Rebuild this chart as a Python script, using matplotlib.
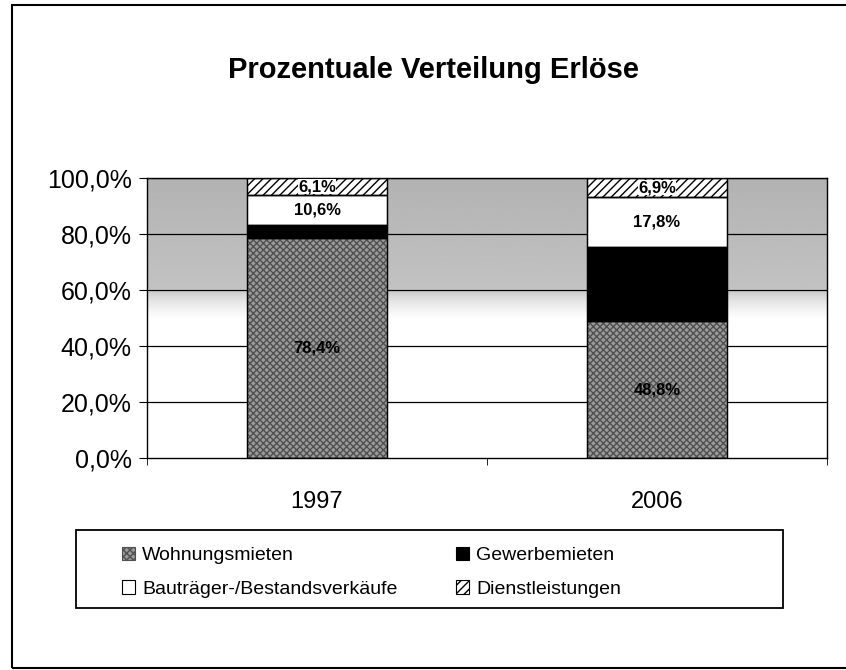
import numpy as np
import matplotlib
matplotlib.use("Agg")
import matplotlib.pyplot as plt
from matplotlib.patches import Rectangle

plt.rcParams["font.family"] = ["Liberation Sans", "DejaVu Sans"]

# ── Data ────────────────────────────────────────────────────────────────
years = ["1997", "2006"]
series = ["Wohnungsmieten", "Gewerbemieten",
          "Bauträger-/Bestandsverkäufe", "Dienstleistungen"]
wohnungsmieten = [78.4, 48.8]
gewerbemieten = [4.9, 26.5]
bautraeger = [10.6, 17.8]
dienstleistungen = [6.1, 6.9]
yticks = [0, 20, 40, 60, 80, 100]

values = [wohnungsmieten, gewerbemieten, bautraeger, dienstleistungen]
styles = [
    dict(color="#9a9a9a", hatch="xxxxx", ec="#505050"),
    dict(color="black", hatch=None, ec="black"),
    dict(color="white", hatch=None, ec="black"),
    dict(color="white", hatch="////", ec="black"),
]
show_label = [True, False, True, True]

W, H = 846, 670
fig = plt.figure(figsize=(W / 100, H / 100), dpi=100)
ax = fig.add_axes([147 / W, 1 - 458 / H, 680 / W, 280 / H])

# background gradient of plot area (gray top, fading to white)
grad_y = np.linspace(0, 100, 200)
shade = np.interp(grad_y, [0, 50, 56, 61, 100], [1.0, 1.0, 0.9, 0.76, 0.7])
ax.imshow(shade[:, None], extent=[-0.5, 1.5, 0, 100], origin="lower",
          aspect="auto", cmap="gray", vmin=0, vmax=1, zorder=0)

for y in yticks[1:]:
    ax.axhline(y, color="black", lw=0.9, zorder=1)

x = np.arange(len(years))
bottom = np.zeros(len(years))
handles = []
for i, (vals, st) in enumerate(zip(values, styles)):
    bars = ax.bar(x, vals, width=0.41, bottom=bottom, color=st["color"],
                  hatch=st["hatch"], edgecolor=st["ec"], linewidth=0.8,
                  zorder=2, label=series[i])
    # outline each segment in black
    ax.bar(x, vals, width=0.41, bottom=bottom, color="none",
           edgecolor="black", linewidth=1.0, zorder=3)
    handles.append(bars)
    if show_label[i]:
        for j, v in enumerate(vals):
            label = f"{v:.1f}%".replace(".", ",")
            bbox = None
            if i == 3:
                bbox = dict(facecolor="white", edgecolor="none", pad=0.3)
            ax.text(x[j], bottom[j] + v / 2, label, ha="center",
                    va="center", fontsize=12, fontweight="bold", zorder=4,
                    bbox=bbox)
    bottom += np.array(vals)

ax.set_xlim(-0.5, 1.5)
ax.set_ylim(0, 100)
ax.set_yticks(yticks)
ax.set_yticklabels([f"{t:.1f}%".replace(".", ",") for t in yticks],
                   fontsize=18)
ax.set_xticks(x)
ax.set_xticklabels(years, fontsize=17)
ax.tick_params(axis="x", length=0, pad=24)
ax.set_xticks([-0.5, 0.5, 1.5], minor=True)
ax.tick_params(axis="x", which="minor", length=5, direction="out")
ax.tick_params(axis="y", length=6, direction="out", pad=5)
for sp in ax.spines.values():
    sp.set_linewidth(1.0)
    sp.set_color("black")

fig.text(434 / W, 1 - 70 / H, "Prozentuale Verteilung Erlöse",
         ha="center", va="center", fontsize=21, fontweight="bold")

# legend: two one-column blocks inside a drawn box
leg_kw = dict(frameon=False, fontsize=14, handlelength=0.7,
              handleheight=0.7, handletextpad=0.35, borderpad=0,
              labelspacing=0.8, loc="upper left")
leg1 = fig.legend([handles[0], handles[2]], [series[0], series[2]],
                  bbox_to_anchor=(112 / W, 1 - 537 / H), **leg_kw)
leg2 = fig.legend([handles[1], handles[3]], [series[1], series[3]],
                  bbox_to_anchor=(446 / W, 1 - 537 / H), **leg_kw)
fig.patches.append(Rectangle((76 / W, 1 - 608 / H), 707 / W, 78 / H,
                             transform=fig.transFigure, fill=False,
                             edgecolor="black", linewidth=1.3))

# outer chart frame
fig.patches.append(Rectangle((12 / W, 2 / H), 1.0, 663 / H,
                             transform=fig.transFigure, fill=False,
                             edgecolor="black", linewidth=1.5))

fig.savefig("out.png", dpi=100)
